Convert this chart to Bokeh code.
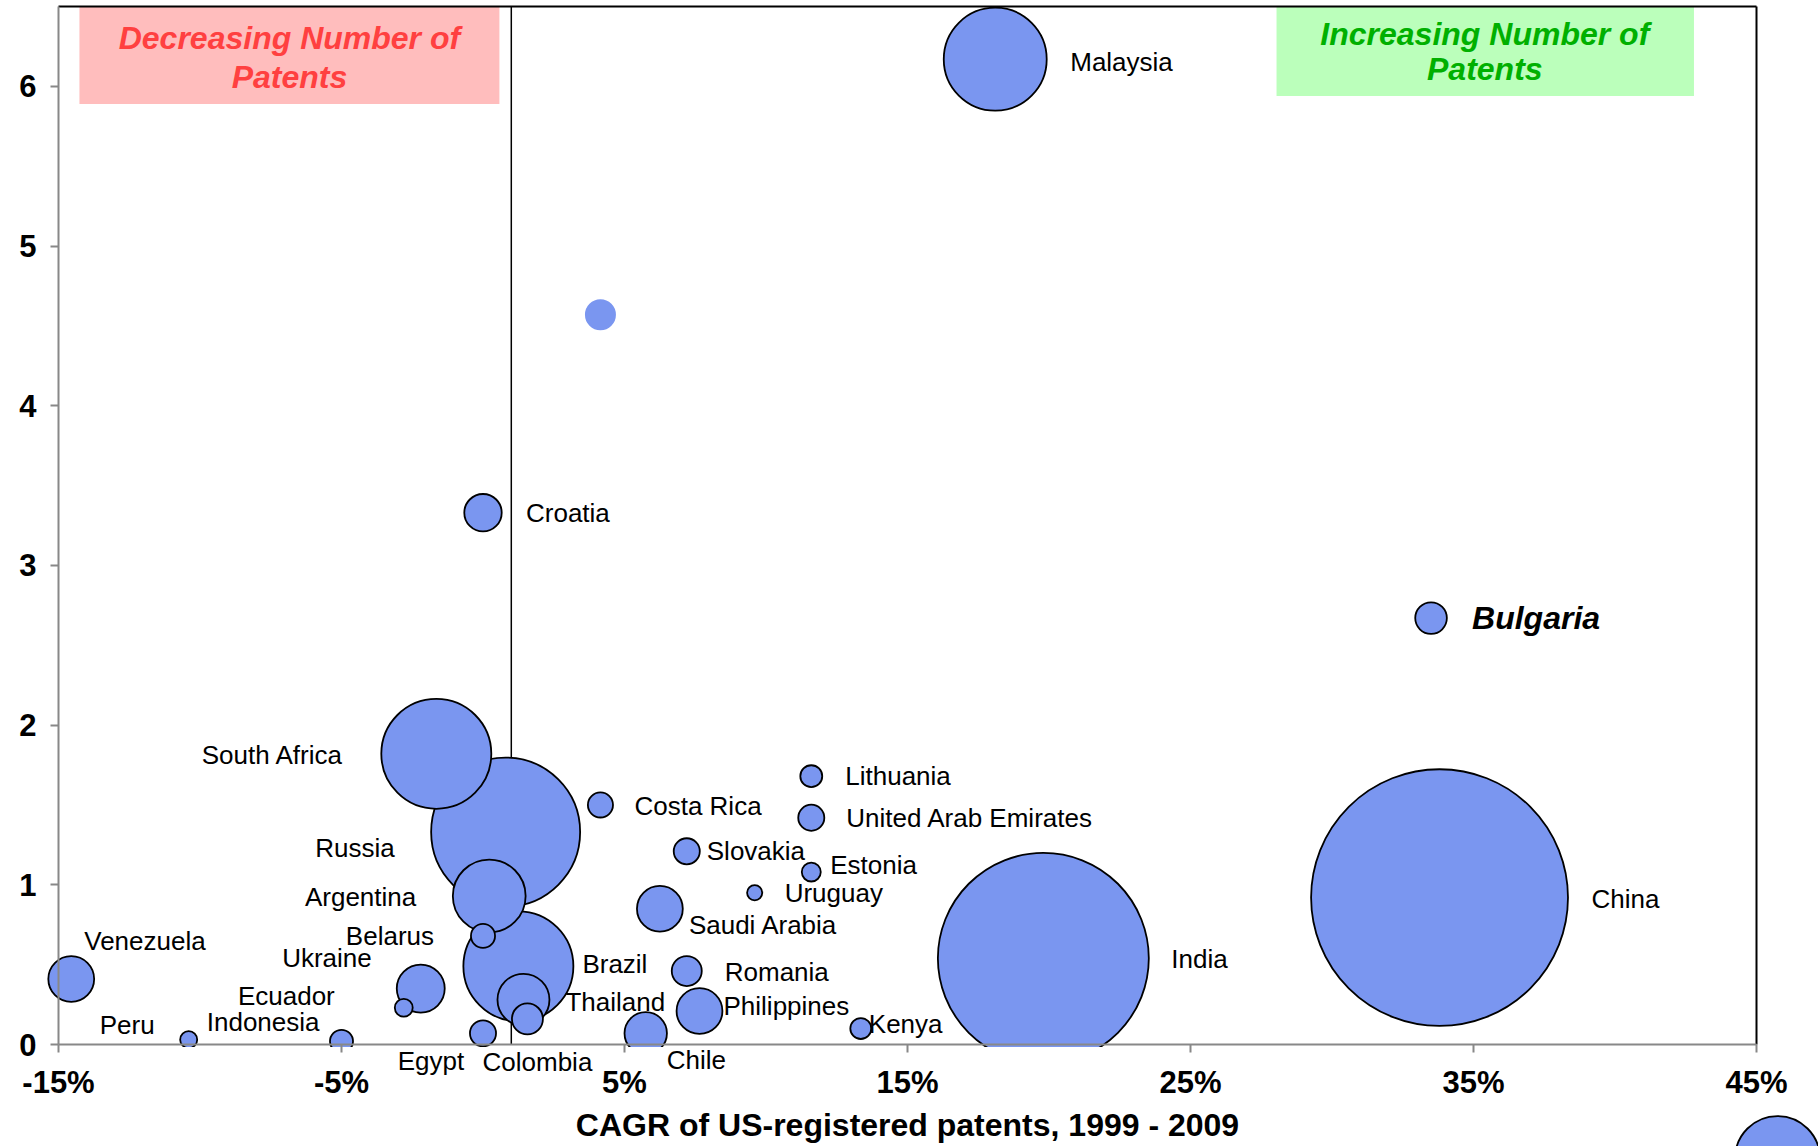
import math
from bokeh.plotting import figure
from bokeh.models import ColumnDataSource, FixedTicker, Range1d, BoxAnnotation
from bokeh.core.properties import value
from bokeh.embed import file_html
from bokeh.resources import INLINE

# ---------------- data ----------------
countries = ["Malaysia", "", "Croatia", "Bulgaria", "South Africa", "Russia", "Costa Rica",
             "Lithuania", "United Arab Emirates", "Slovakia", "Estonia", "Uruguay", "Saudi Arabia",
             "Argentina", "Belarus", "Brazil", "Thailand", "Colombia", "Egypt", "Chile", "Romania",
             "Philippines", "Kenya", "India", "China", "Ukraine", "Ecuador", "Indonesia", "Peru",
             "Venezuela"]
cagr = [18.1, 4.15, 0.0, 33.5, -1.65, 0.8, 4.15,
        11.6, 11.6, 7.2, 11.6, 9.6, 6.25,
        0.22, 0.0, 1.25, 1.43, 1.57, 0.0, 5.75, 7.2,
        7.65, 13.35, 19.8, 33.8, -2.2, -2.8, -5.0, -10.4,
        -14.55]
y_value = [6.17, 4.57, 3.33, 2.67, 1.82, 1.33, 1.50,
           1.68, 1.42, 1.21, 1.08, 0.95, 0.85,
           0.93, 0.68, 0.49, 0.28, 0.16, 0.07, 0.07, 0.46,
           0.21, 0.10, 0.54, 0.92, 0.35, 0.23, 0.02, 0.03,
           0.41]
bubble_size = [106, 9.6, 14, 10, 121, 222, 6.3,
               4.8, 6.8, 6.8, 3.6, 2.3, 21,
               53, 5.8, 121, 27, 9.6, 6.8, 18, 9,
               21, 4.4, 445, 660, 23, 3.2, 5.3, 2.9,
               21]
legend_bubble_size = [72]
x_ticks = [-15, -5, 5, 15, 25, 35, 45]
x_tick_labels = ["-15%", "-5%", "5%", "15%", "25%", "35%", "45%"]
y_ticks = [0, 1, 2, 3, 4, 5, 6]
x_title = "CAGR of US-registered patents, 1999 - 2009"
left_box_text = ["Decreasing Number of", "Patents"]
right_box_text = ["Increasing Number of", "Patents"]

# ---------------- label layout (pixel offsets / alignment) ----------------
label_dx = [75, 0, 43, 41, -93, -111, 34,
            34, 35, 20, 19, 30, 29,
            -73, -49, 64, 42, 10, -52, 21, 38,
            24, 8, 128, 152, -49, -69, -22, -34,
            13]
label_dy = [3, 0, 0, 0, 1, 16, 1,
            0, 0, 0, -7, 0, 16,
            1, 0, -2, 2, 43, 28, 27, 1,
            -5, -5, 1, 1, -31, -12, -19, -15,
            -38]
label_align = ["left", "left", "left", "left", "right", "right", "left",
               "left", "left", "left", "left", "left", "left",
               "right", "right", "left", "left", "center", "center", "left", "left",
               "left", "left", "left", "left", "right", "right", "right", "right",
               "left"]

FONT = "Liberation Sans"
BUBBLE = "#7A96F0"
X0, X1, Y_TOP = -15, 45, 6.5

# ---------------- layout: the frame covers the whole canvas ----------------
W, H = 1818, 1146
PX_LEFT, PX_RIGHT, PX_TOP, PX_ZERO = 58, 1756, 6, 1044
ppx = (PX_RIGHT - PX_LEFT) / (X1 - X0)
ppy = (PX_ZERO - PX_TOP) / Y_TOP
x_range = Range1d(X0 - PX_LEFT / ppx, X1 + (W - PX_RIGHT) / ppx)
y_range = Range1d(-(H - PX_ZERO) / ppy, Y_TOP + PX_TOP / ppy)

p = figure(width=W, height=H, output_backend="svg", toolbar_location=None,
           x_range=x_range, y_range=y_range,
           min_border_left=0, min_border_right=0, min_border_top=0, min_border_bottom=0)
p.xgrid.visible = False
p.ygrid.visible = False
p.outline_line_color = None
p.background_fill_color = "white"
p.border_fill_color = "white"

# annotation boxes
p.add_layout(BoxAnnotation(left=-14.26, right=0.58, bottom=5.89, top=Y_TOP,
                           fill_color="#FFBDBD", fill_alpha=1.0, line_color=None, level="underlay"))
p.add_layout(BoxAnnotation(left=28.04, right=42.79, bottom=5.94, top=Y_TOP,
                           fill_color="#BBFFBB", fill_alpha=1.0, line_color=None, level="underlay"))
p.text(x=[-6.84, -6.84], y=[6.30, 6.06], text=left_box_text, text_align="center",
       text_baseline="middle", text_font=value(FONT), text_font_style="bold italic",
       text_font_size="32px", text_color="#FF4040")
p.text(x=[35.4, 35.4], y=[6.33, 6.11], text=right_box_text, text_align="center",
       text_baseline="middle", text_font=value(FONT), text_font_style="bold italic",
       text_font_size="32px", text_color="#00B000")

# plot-area border (top, right) and zero-growth divider
p.segment(x0=[X0, X1], y0=[Y_TOP, 0], x1=[X1, X1], y1=[Y_TOP, Y_TOP],
          line_color="black", line_width=2)
p.segment(x0=[1], y0=[0], x1=[1], y1=[Y_TOP], line_color="black", line_width=1.5)

# bubbles, largest first
order = sorted(range(len(countries)), key=lambda i: -bubble_size[i])
src = ColumnDataSource(dict(
    x=[cagr[i] for i in order],
    y=[y_value[i] for i in order],
    size=[10 * math.sqrt(bubble_size[i]) for i in order],
    la=[0.0 if countries[i] == "" else 1.0 for i in order],
))
p.scatter(x="x", y="y", size="size", source=src, fill_color=BUBBLE, fill_alpha=1.0,
          line_color="black", line_alpha="la", line_width=1.8)

# bubbles are cut at the category axis (white mask below zero)
p.quad(left=[X0], right=[X1], bottom=[y_range.start], top=[-0.015], fill_color="white",
       line_color=None)

# size-legend bubble, partly outside the picture in the bottom-right corner
p.scatter(x=[X1 + (1777 - PX_RIGHT) / ppx], y=[-(1158 - PX_ZERO) / ppy],
          size=[10 * math.sqrt(legend_bubble_size[0])], fill_color=BUBBLE,
          line_color="black", line_width=1.8)

# labels
for align in ["left", "right", "center"]:
    idx = [i for i in range(len(countries))
           if label_align[i] == align and countries[i] not in ("", "Bulgaria")]
    s = ColumnDataSource(dict(x=[cagr[i] for i in idx], y=[y_value[i] for i in idx],
                              t=[countries[i] for i in idx],
                              dx=[label_dx[i] for i in idx], dy=[label_dy[i] for i in idx]))
    p.text(x="x", y="y", text="t", x_offset="dx", y_offset="dy", source=s,
           text_align=align, text_baseline="middle", text_font=value(FONT),
           text_font_size="26px", text_color="black")
bi = countries.index("Bulgaria")
p.text(x=[cagr[bi]], y=[y_value[bi]], text=["Bulgaria"], x_offset=label_dx[bi], y_offset=label_dy[bi],
       text_align="left", text_baseline="middle", text_font=value(FONT),
       text_font_style="bold italic", text_font_size="32px", text_color="black")

# axes (drawn inside the frame at the data origin)
for ax in (p.xaxis[0], p.yaxis[0]):
    ax.axis_line_color = "#888888"
    ax.axis_line_width = 2
    ax.major_tick_line_color = "#888888"
    ax.major_tick_line_width = 2
    ax.major_tick_in = 0
    ax.major_tick_out = 8
    ax.minor_tick_line_color = None
    ax.major_label_text_font = FONT
    ax.major_label_text_font_style = "bold"
    ax.major_label_text_font_size = "31px"
    ax.major_label_text_color = "black"
p.xaxis[0].fixed_location = 0
p.xaxis[0].bounds = (X0, X1)
p.xaxis[0].ticker = FixedTicker(ticks=x_ticks)
p.xaxis[0].major_label_overrides = {t: l for t, l in zip(x_ticks, x_tick_labels)}
p.xaxis[0].major_label_standoff = 12
p.xaxis[0].axis_label = x_title
p.xaxis[0].axis_label_text_font = FONT
p.xaxis[0].axis_label_text_font_style = "bold"
p.xaxis[0].axis_label_text_font_size = "32px"
p.xaxis[0].axis_label_text_color = "black"
p.xaxis[0].axis_label_standoff = 4
p.yaxis[0].fixed_location = X0
p.yaxis[0].bounds = (0, Y_TOP)
p.yaxis[0].ticker = FixedTicker(ticks=y_ticks)
p.yaxis[0].major_label_standoff = 14

open("out.html", "w").write(file_html(p, INLINE))
